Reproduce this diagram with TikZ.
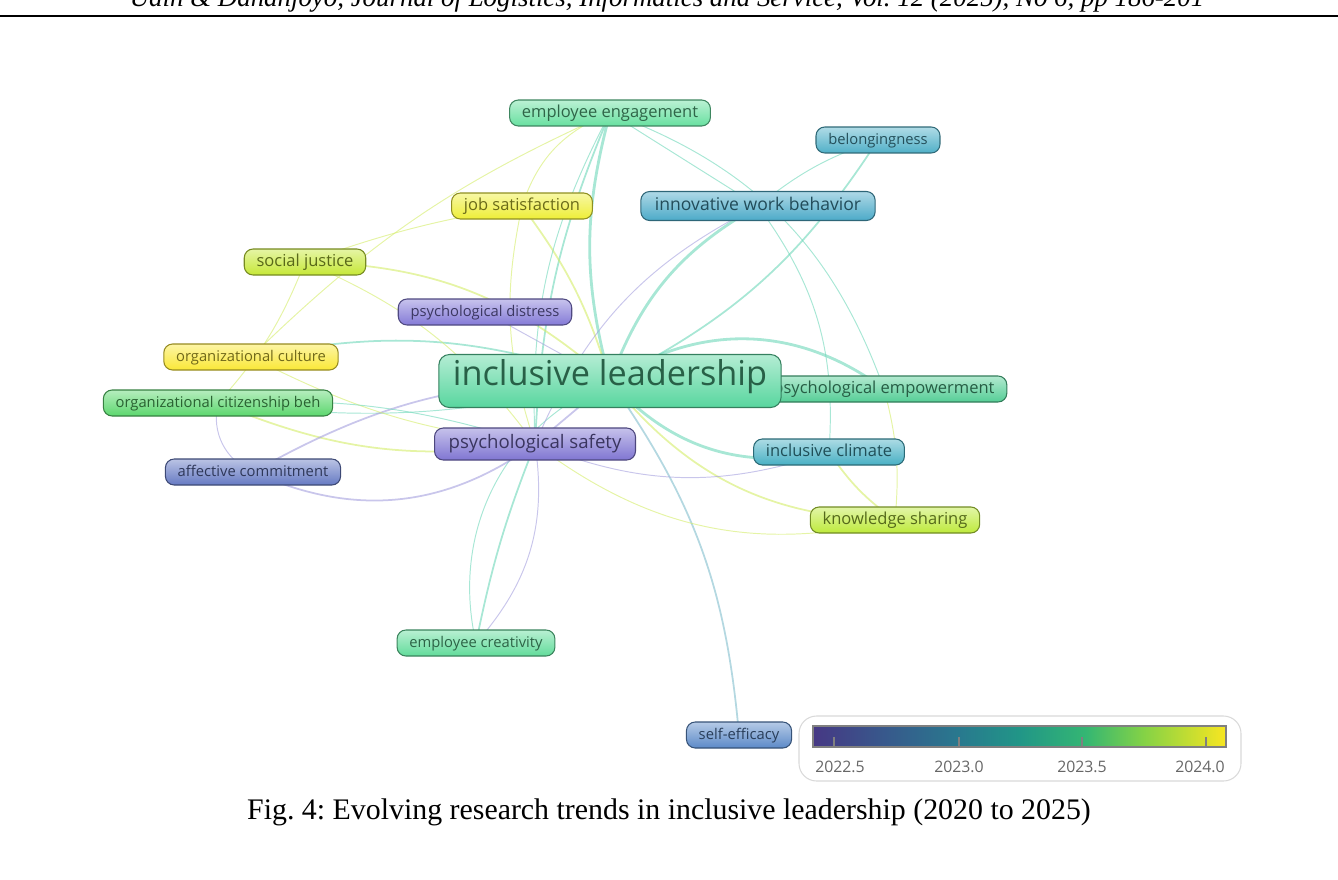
\documentclass[tikz,border=0pt]{standalone}
\usepackage{fontspec}
\setmainfont{Liberation Serif}
\newfontfamily\osans{Open Sans}
\usepackage{xcolor}
\usepackage{tikz}
\pgfdeclarelayer{links}
\pgfsetlayers{links,main}
\definecolor{vIL}{RGB}{88,214,158}
\definecolor{vEE}{RGB}{104,224,160}
\definecolor{vEC}{RGB}{98,220,155}
\definecolor{vPE}{RGB}{85,206,150}
\definecolor{vBel}{RGB}{80,176,200}
\definecolor{vIWB}{RGB}{76,170,200}
\definecolor{vIC}{RGB}{72,176,196}
\definecolor{vJS}{RGB}{238,238,55}
\definecolor{vOC}{RGB}{250,232,55}
\definecolor{vSJ}{RGB}{198,232,55}
\definecolor{vKS}{RGB}{190,234,60}
\definecolor{vOCB}{RGB}{92,215,110}
\definecolor{vPD}{RGB}{132,122,215}
\definecolor{vPS}{RGB}{128,118,210}
\definecolor{vAC}{RGB}{102,122,195}
\definecolor{vSE}{RGB}{92,138,200}
\definecolor{eTeal}{RGB}{110,215,185}
\definecolor{eYel}{RGB}{212,236,105}
\definecolor{ePur}{RGB}{165,160,222}
\definecolor{eBlu}{RGB}{130,190,205}
\definecolor{vb0}{RGB}{70,56,132}
\definecolor{vb1}{RGB}{55,90,140}
\definecolor{vb2}{RGB}{40,122,142}
\definecolor{vb3}{RGB}{33,150,135}
\definecolor{vb4}{RGB}{52,182,115}
\definecolor{vb5}{RGB}{132,210,70}
\definecolor{vb6}{RGB}{248,230,33}
\pgfdeclarehorizontalshading{viridis}{100bp}{color(0bp)=(vb0); color(25bp)=(vb0); color(34bp)=(vb1); color(43bp)=(vb2); color(50bp)=(vb3); color(58bp)=(vb4); color(65bp)=(vb5); color(75bp)=(vb6); color(100bp)=(vb6)}
\frenchspacing

\begin{document}
\begin{tikzpicture}[x=0.02cm, y=-0.02cm,
  kw/.style={rounded corners=5pt, draw=#1!60!black, line width=0.6pt, top color=#1!45!white, bottom color=#1, text=#1!45!black, text height=1.5ex, text depth=.4ex, inner xsep=7pt, inner ysep=0pt, minimum height=0.52cm},
  sm/.style={font=\osans\fontsize{8.4}{10}\selectfont},
  md/.style={font=\osans\fontsize{9.4}{11}\selectfont},
  lg/.style={font=\osans\fontsize{10.6}{12}\selectfont, minimum height=0.64cm, inner xsep=8pt},
  hub/.style={font=\osans\fontsize{19.5}{22}\selectfont, minimum height=1.06cm, inner xsep=8pt, rounded corners=6pt},
  lk/.style={draw=#1, line width=0.55pt, line cap=round, opacity=.6},
  med/.style={line width=1pt},
  thk/.style={line width=1.6pt}]
\useasboundingbox (0,0) rectangle (1338,879);
\clip (0,0) rectangle (1338,879);
\node[anchor=base, font=\fontsize{15.3}{18}\selectfont\itshape] (hdr) at (667,7) {Udin \& Dananjoyo, Journal of Logistics, Informatics and Service, Vol. 12 (2025), No 6, pp 186-201};
\draw[line width=0.85pt] (0,16) -- (1338,16);
\node[kw=vEE, md] (ee) at (610,113) {employee engagement};
\node[kw=vBel, sm] (bel) at (878,140) {belongingness};
\node[kw=vJS, md] (js) at (522,206) {job satisfaction};
\node[kw=vIWB, lg, font=\osans\fontsize{10}{12}\selectfont, minimum height=0.58cm] (iwb) at (758,206) {innovative work behavior};
\node[kw=vSJ, md] (sj) at (305,262) {social justice};
\node[kw=vPD, sm] (pd) at (485,312) {psychological distress};
\node[kw=vOC, sm] (oc) at (251,357) {organizational culture};
\node[kw=vPE, md] (pe) at (884,389) {psychological empowerment};
\node[kw=vIL, hub] (il) at (610,381) {inclusive leadership};
\node[kw=vOCB, sm] (ocb) at (218,403) {organizational citizenship beh};
\node[kw=vPS, lg] (ps) at (535,444) {psychological safety};
\node[kw=vIC, md] (ic) at (829,452) {inclusive climate};
\node[kw=vAC, sm] (ac) at (253,472) {affective commitment};
\node[kw=vKS, md] (ks) at (895,520) {knowledge sharing};
\node[kw=vEC, sm] (ec) at (476,643) {employee creativity};
\node[kw=vSE, sm] (se) at (739,735) {self-efficacy};
\begin{pgfonlayer}{links}
\draw[lk=eTeal, thk] (il.center) to[bend left=15] (ee.center);
\draw[lk=eTeal, med] (ps.center) to[bend left=10] (ee.center);
\draw[lk=eTeal, thk] (il.center) to[bend left=20] (iwb.center);
\draw[lk=eTeal, med] (il.center) to[bend right=15] (bel.center);
\draw[lk=eTeal, thk] (il.center) to[bend left=35] (pe.center);
\draw[lk=eTeal, thk] (il.center) to[bend right=30] (ic.center);
\draw[lk=eYel, med] (il.center) to[bend right=25] (ks.center);
\draw[lk=eBlu, med] (il.center) to[bend left=15] (se.center);
\draw[lk=eTeal, med] (ps.center) to[bend right=5] (ec.center);
\draw[lk=eTeal] (il.center) to[bend right=40] (ec.center);
\draw[lk=ePur] (ps.center) to[bend left=25] (ec.center);
\draw[lk=eYel, med] (sj.center) to[bend left=20] (il.center);
\draw[lk=eYel] (sj.center) to[bend left=5] (js.center);
\draw[lk=eTeal, med] (oc.center) to[bend left=15] (il.center);
\draw[lk=eTeal] (ocb.center) to[bend right=10] (il.center);
\draw[lk=eYel, med] (ocb.center) to[bend right=15] (ps.center);
\draw[lk=ePur, med] (ac.center) to[bend left=15] (il.center);
\draw[lk=eYel, med] (js.center) to[bend left=10] (il.center);
\draw[lk=ePur] (pd.center) -- (il.center);
\draw[lk=ePur, med] (ps.center) -- (il.center);
\draw[lk=eTeal] (ee.center) -- (iwb.center);
\draw[lk=eTeal] (ee.center) to[bend left=25] (pe.center);
\draw[lk=eYel] (ee.center) to[bend right=10] (oc.center);
\draw[lk=eYel] (ee.center) to[bend right=25] (js.center);
\draw[lk=eTeal] (ee.center) to[bend right=15] (ps.center);
\draw[lk=eTeal] (iwb.center) to[bend left=10] (bel.center);
\draw[lk=eTeal] (iwb.center) to[bend left=20] (ic.center);
\draw[lk=ePur] (iwb.center) to[bend right=20] (ps.center);
\draw[lk=eYel] (pe.center) to[bend left=10] (ks.center);
\draw[lk=eYel, med] (ic.center) to[bend right=10] (ks.center);
\draw[lk=eYel] (ps.center) to[bend right=25] (ks.center);
\draw[lk=ePur] (ps.center) to[bend right=20] (ic.center);
\draw[lk=ePur, med] (ac.center) to[bend right=30] (ps.center);
\draw[lk=ePur] (ocb.center) to[bend right=40] (ac.center);
\draw[lk=eYel] (sj.center) to[bend left=10] (ocb.center);
\draw[lk=eYel] (sj.center) to[bend left=15] (ps.center);
\draw[lk=eYel] (oc.center) to[bend right=10] (ps.center);
\draw[lk=eTeal] (ocb.center) to[bend left=10] (ps.center);
\draw[lk=eYel] (js.center) to[bend right=15] (ps.center);
\end{pgfonlayer}
\draw[draw=black!15, line width=0.6pt, rounded corners=10pt] (799,716) rectangle (1241,781);
\shade[shading=viridis, draw=gray, line width=0.6pt] (813,726) rectangle (1226,747);
\foreach \x/\l/\t in {834/840/2022.5, 959/959/2023.0, 1082/1082/2023.5, 1206/1200/2024.0}{
  \draw[gray, line width=0.7pt] (\x,737) -- (\x,748);
  \node[font=\osans\fontsize{9}{10}\selectfont, text=black!60] (t\x) at (\l,767) {\t};
}
\node[font=\fontsize{17}{20}\selectfont] (cap) at (669,812) {Fig. 4: Evolving research trends in inclusive leadership (2020 to 2025)};
\end{tikzpicture}
\end{document}
